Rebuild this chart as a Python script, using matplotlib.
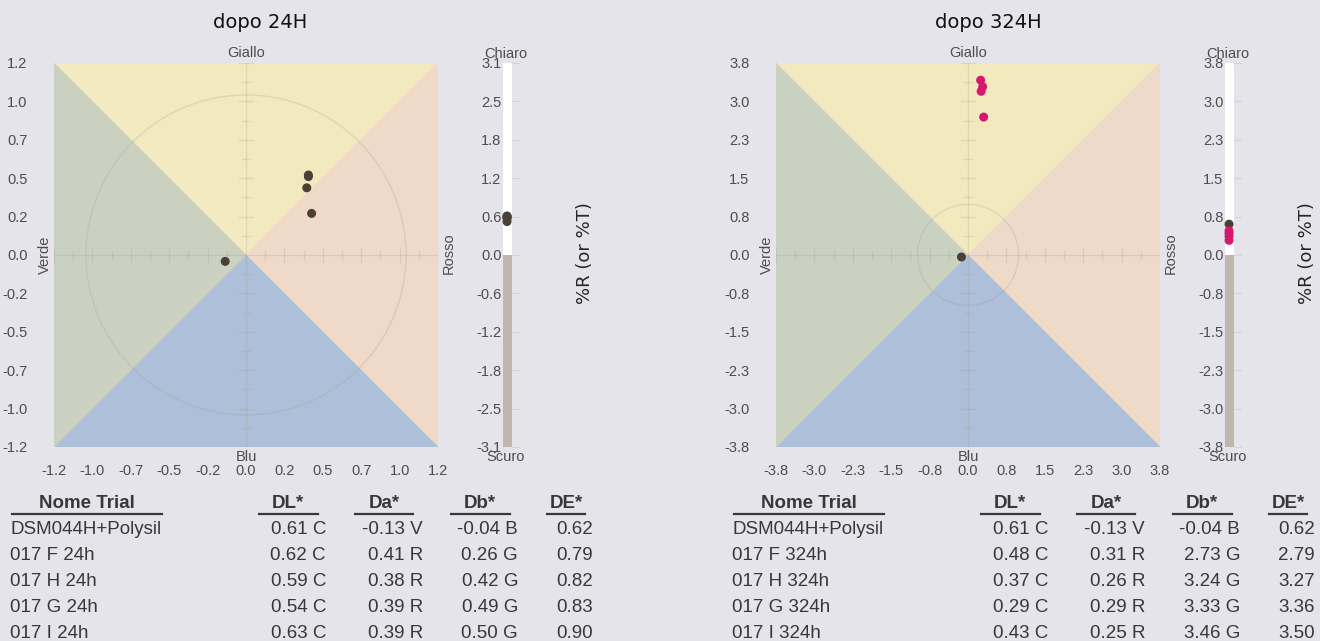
import matplotlib
matplotlib.use('Agg')
import matplotlib.pyplot as plt
from matplotlib.patches import Polygon, Circle, Rectangle
from matplotlib.lines import Line2D
import numpy as np

W, H = 1320, 641
BG = '#e4e4ea'

# ---------------- data ----------------
titles = ['dopo 24H', 'dopo 324H']

names_24 = ['DSM044H+Polysil', '017 F 24h', '017 H 24h', '017 G 24h', '017 I 24h']
dL_24 = [0.61, 0.62, 0.59, 0.54, 0.63]
da_24 = [-0.13, 0.41, 0.38, 0.39, 0.39]
db_24 = [-0.04, 0.26, 0.42, 0.49, 0.50]
dE_24 = [0.62, 0.79, 0.82, 0.83, 0.90]

names_324 = ['DSM044H+Polysil', '017 F 324h', '017 H 324h', '017 G 324h', '017 I 324h']
dL_324 = [0.61, 0.48, 0.37, 0.29, 0.43]
da_324 = [-0.13, 0.31, 0.26, 0.29, 0.25]
db_324 = [-0.04, 2.73, 3.24, 3.33, 3.46]
dE_324 = [0.62, 2.79, 3.27, 3.36, 3.50]

ab_max_24, L_max_24 = 1.2, 3.1
ab_max_324, L_max_324 = 3.8, 3.8
ab_ticklabels_24 = ['-1.2', '-1.0', '-0.7', '-0.5', '-0.2', '0.0', '0.2', '0.5', '0.7', '1.0', '1.2']
L_ticklabels_24 = ['-3.1', '-2.5', '-1.8', '-1.2', '-0.6', '0.0', '0.6', '1.2', '1.8', '2.5', '3.1']
ab_ticklabels_324 = ['-3.8', '-3.0', '-2.3', '-1.5', '-0.8', '0.0', '0.8', '1.5', '2.3', '3.0', '3.8']
L_ticklabels_324 = ['-3.8', '-3.0', '-2.3', '-1.5', '-0.8', '0.0', '0.8', '1.5', '2.3', '3.0', '3.8']

DARK = '#4a4036'
MAGENTA = '#d6176f'
colors_24 = [DARK, DARK, DARK, DARK, DARK]
colors_324 = [DARK, MAGENTA, MAGENTA, MAGENTA, MAGENTA]

table_headers = ['Nome Trial', 'DL*', 'Da*', 'Db*', 'DE*']

# ---------------- style ----------------
plt.rcParams['font.family'] = ['Liberation Sans', 'DejaVu Sans']
TXT = '#4d4d4d'
TAB = '#383838'
GUIDE = '#a39c8c'

fig = plt.figure(figsize=(W / 100, H / 100), dpi=100, facecolor=BG)


def rect(x0, y0, x1, y1):
    return [x0 / W, 1 - y1 / H, (x1 - x0) / W, (y1 - y0) / H]


def ftext(x, y, s, **kw):
    return fig.text(x / W, 1 - y / H, s, **kw)


def fline(x0, x1, y, **kw):
    fig.add_artist(Line2D([x0 / W, x1 / W], [1 - y / H, 1 - y / H],
                          transform=fig.transFigure, **kw))


def code(v, neg, pos):
    return neg if v < 0 else pos


def panel(ox, title, title_x, names, dL, da, db, dE, m, Lm, ablabels, Llabels, cols):
    # --- a*b* square ---
    ax = fig.add_axes(rect(54 + ox, 63, 438 + ox, 447))
    ax.set_facecolor('none')
    ax.set_xlim(-m, m)
    ax.set_ylim(-m, m)
    for sp in ax.spines.values():
        sp.set_visible(False)
    tri = [
        ([(-m, m), (m, m), (0, 0)], '#f3e9bf'),
        ([(m, m), (m, -m), (0, 0)], '#efd9c8'),
        ([(m, -m), (-m, -m), (0, 0)], '#adbfd9'),
        ([(-m, -m), (-m, m), (0, 0)], '#cbd1c1'),
    ]
    for pts, c in tri:
        ax.add_patch(Polygon(pts, closed=True, fc=c, ec=c, lw=0.5, zorder=1))
    ax.add_patch(Circle((0, 0), 1.0, fill=False, ec=GUIDE, alpha=0.25, lw=1.0, zorder=2))
    ax.axhline(0, color=GUIDE, alpha=0.25, lw=0.9, zorder=2)
    ax.axvline(0, color=GUIDE, alpha=0.25, lw=0.9, zorder=2)
    for k in range(-10, 11):
        if k == 0:
            continue
        t = k * m / 10
        h = m * (0.035 if k % 2 == 0 else 0.02)
        ax.plot([t, t], [-h, h], color=GUIDE, alpha=0.25, lw=0.9, zorder=2)
        ax.plot([-h, h], [t, t], color=GUIDE, alpha=0.25, lw=0.9, zorder=2)
    ax.scatter(da, db, s=42, c=cols, edgecolors='none', zorder=5)
    ticks = np.linspace(-m, m, 11)
    ax.set_xticks(ticks)
    ax.set_xticklabels(ablabels)
    ax.set_yticks(ticks)
    ax.set_yticklabels(ablabels)
    ax.tick_params(length=0, labelsize=10.5, labelcolor=TXT)
    ax.tick_params(axis='y', pad=19)
    ax.tick_params(axis='x', pad=12)

    # --- L bar ---
    bx = fig.add_axes(rect(503 + ox, 63, 512 + ox, 447))
    bx.set_facecolor('none')
    bx.set_xlim(0, 1)
    bx.set_ylim(-Lm, Lm)
    for sp in bx.spines.values():
        sp.set_visible(False)
    bx.add_patch(Rectangle((0, 0), 1, Lm, fc='white', ec='none', zorder=1))
    bx.add_patch(Rectangle((0, -Lm), 1, Lm, fc='#bfb6ae', ec='none', zorder=1))
    Lt = np.linspace(-Lm, Lm, 11)
    bx.set_xticks([])
    bx.set_yticks(Lt)
    bx.set_yticklabels(Llabels)
    bx.tick_params(length=0, pad=1, labelsize=10.5, labelcolor=TXT)
    for t in Lt:
        bx.plot([1.0, 1.8], [t, t], color='#d4d4d8', lw=0.8, clip_on=False, zorder=0)
    bx.scatter([0.45] * len(dL), dL, s=42, c=cols, edgecolors='none',
               zorder=5, clip_on=False)

    # --- direction labels ---
    cx = 246 + ox
    ftext(cx, 53, 'Giallo', ha='center', va='center', fontsize=10.5, color=TXT)
    ftext(cx, 457, 'Blu', ha='center', va='center', fontsize=10.5, color=TXT)
    ftext(45 + ox, 255, 'Verde', ha='center', va='center', rotation=90, fontsize=10.5, color=TXT)
    ftext(449 + ox, 253, 'Rosso', ha='center', va='center', rotation=90, fontsize=10.5, color=TXT)
    ftext(506 + ox, 54, 'Chiaro', ha='center', va='center', fontsize=10.5, color=TXT)
    ftext(506 + ox, 457, 'Scuro', ha='center', va='center', fontsize=10.5, color=TXT)
    ftext(585 + ox, 253, '%R (or %T)', ha='center', va='center', rotation=90, fontsize=13,
          color='#262626', family='DejaVu Sans')
    ftext(title_x, 22, title, ha='center', va='center', fontsize=14, color='#111111',
          family='DejaVu Sans')

    # --- table ---
    hy = 503
    heads = [(87, 12, 162), (288, 259, 318), (384, 355, 413), (480, 451, 510), (566, 547, 585)]
    for (hx, u0, u1), htxt in zip(heads, table_headers):
        ftext(hx + ox, hy, htxt, ha='center', va='center', fontsize=13.5, fontweight='bold', color=TAB)
        fline(u0 + ox, u1 + ox, hy + 11, color=TAB, lw=1.6)
    row_y = [530, 556, 582, 608, 633]
    for i, y in enumerate(row_y):
        ftext(10 + ox, y, names[i], ha='left', va='center', fontsize=13.5, color=TAB)
        ftext(326 + ox, y, f'{dL[i]:.2f} {code(dL[i], "S", "C")}', ha='right', va='center',
              fontsize=13.5, color=TAB)
        ftext(423 + ox, y, f'{da[i]:.2f} {code(da[i], "V", "R")}', ha='right', va='center',
              fontsize=13.5, color=TAB)
        ftext(518 + ox, y, f'{db[i]:.2f} {code(db[i], "B", "G")}', ha='right', va='center',
              fontsize=13.5, color=TAB)
        ftext(593 + ox, y, f'{dE[i]:.2f}', ha='right', va='center', fontsize=13.5, color=TAB)


panel(0, titles[0], 260, names_24, dL_24, da_24, db_24, dE_24, ab_max_24, L_max_24,
      ab_ticklabels_24, L_ticklabels_24, colors_24)
panel(722, titles[1], 988, names_324, dL_324, da_324, db_324, dE_324, ab_max_324, L_max_324,
      ab_ticklabels_324, L_ticklabels_324, colors_324)

fig.savefig('out.png', dpi=100, facecolor=BG)
